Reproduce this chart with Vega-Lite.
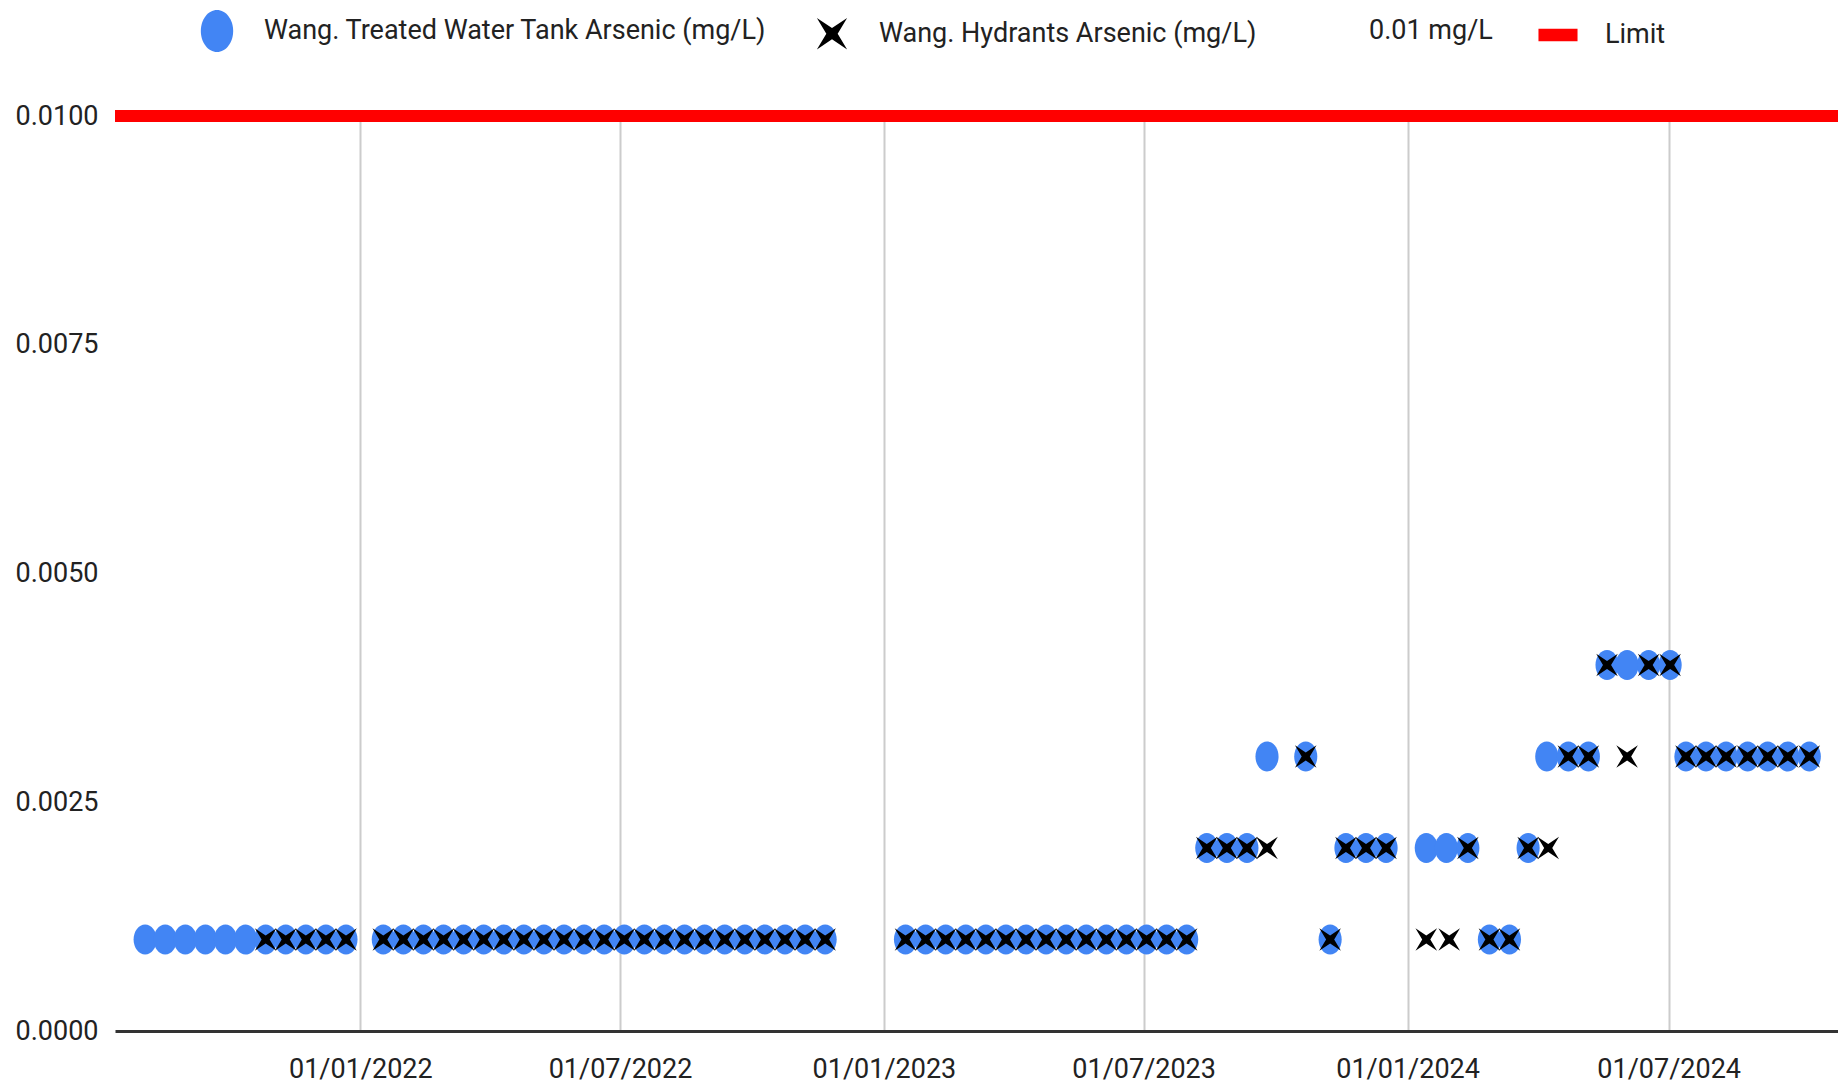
{
  "$schema": "https://vega.github.io/schema/vega-lite/v6.json",
  "width": 1723,
  "height": 915,
  "autosize": {"type": "none"},
  "padding": {"left": 115, "top": 116, "right": 0, "bottom": 54},
  "background": "white",
  "config": {
    "view": {"stroke": null},
    "font": "Roboto, Liberation Sans, Arial, sans-serif"
  },
  "data": {
    "values": [
      {"date": "2021-08-04", "value": 0.001, "series": "Wang. Treated Water Tank Arsenic (mg/L)"},
      {"date": "2021-08-18", "value": 0.001, "series": "Wang. Treated Water Tank Arsenic (mg/L)"},
      {"date": "2021-09-01", "value": 0.001, "series": "Wang. Treated Water Tank Arsenic (mg/L)"},
      {"date": "2021-09-15", "value": 0.001, "series": "Wang. Treated Water Tank Arsenic (mg/L)"},
      {"date": "2021-09-29", "value": 0.001, "series": "Wang. Treated Water Tank Arsenic (mg/L)"},
      {"date": "2021-10-13", "value": 0.001, "series": "Wang. Treated Water Tank Arsenic (mg/L)"},
      {"date": "2021-10-27", "value": 0.001, "series": "Wang. Treated Water Tank Arsenic (mg/L)"},
      {"date": "2021-11-10", "value": 0.001, "series": "Wang. Treated Water Tank Arsenic (mg/L)"},
      {"date": "2021-11-24", "value": 0.001, "series": "Wang. Treated Water Tank Arsenic (mg/L)"},
      {"date": "2021-12-08", "value": 0.001, "series": "Wang. Treated Water Tank Arsenic (mg/L)"},
      {"date": "2021-12-22", "value": 0.001, "series": "Wang. Treated Water Tank Arsenic (mg/L)"},
      {"date": "2022-01-17", "value": 0.001, "series": "Wang. Treated Water Tank Arsenic (mg/L)"},
      {"date": "2022-01-31", "value": 0.001, "series": "Wang. Treated Water Tank Arsenic (mg/L)"},
      {"date": "2022-02-14", "value": 0.001, "series": "Wang. Treated Water Tank Arsenic (mg/L)"},
      {"date": "2022-02-28", "value": 0.001, "series": "Wang. Treated Water Tank Arsenic (mg/L)"},
      {"date": "2022-03-14", "value": 0.001, "series": "Wang. Treated Water Tank Arsenic (mg/L)"},
      {"date": "2022-03-28", "value": 0.001, "series": "Wang. Treated Water Tank Arsenic (mg/L)"},
      {"date": "2022-04-11", "value": 0.001, "series": "Wang. Treated Water Tank Arsenic (mg/L)"},
      {"date": "2022-04-25", "value": 0.001, "series": "Wang. Treated Water Tank Arsenic (mg/L)"},
      {"date": "2022-05-09", "value": 0.001, "series": "Wang. Treated Water Tank Arsenic (mg/L)"},
      {"date": "2022-05-23", "value": 0.001, "series": "Wang. Treated Water Tank Arsenic (mg/L)"},
      {"date": "2022-06-06", "value": 0.001, "series": "Wang. Treated Water Tank Arsenic (mg/L)"},
      {"date": "2022-06-20", "value": 0.001, "series": "Wang. Treated Water Tank Arsenic (mg/L)"},
      {"date": "2022-07-04", "value": 0.001, "series": "Wang. Treated Water Tank Arsenic (mg/L)"},
      {"date": "2022-07-18", "value": 0.001, "series": "Wang. Treated Water Tank Arsenic (mg/L)"},
      {"date": "2022-08-01", "value": 0.001, "series": "Wang. Treated Water Tank Arsenic (mg/L)"},
      {"date": "2022-08-15", "value": 0.001, "series": "Wang. Treated Water Tank Arsenic (mg/L)"},
      {"date": "2022-08-29", "value": 0.001, "series": "Wang. Treated Water Tank Arsenic (mg/L)"},
      {"date": "2022-09-12", "value": 0.001, "series": "Wang. Treated Water Tank Arsenic (mg/L)"},
      {"date": "2022-09-26", "value": 0.001, "series": "Wang. Treated Water Tank Arsenic (mg/L)"},
      {"date": "2022-10-10", "value": 0.001, "series": "Wang. Treated Water Tank Arsenic (mg/L)"},
      {"date": "2022-10-24", "value": 0.001, "series": "Wang. Treated Water Tank Arsenic (mg/L)"},
      {"date": "2022-11-07", "value": 0.001, "series": "Wang. Treated Water Tank Arsenic (mg/L)"},
      {"date": "2022-11-21", "value": 0.001, "series": "Wang. Treated Water Tank Arsenic (mg/L)"},
      {"date": "2023-01-16", "value": 0.001, "series": "Wang. Treated Water Tank Arsenic (mg/L)"},
      {"date": "2023-01-30", "value": 0.001, "series": "Wang. Treated Water Tank Arsenic (mg/L)"},
      {"date": "2023-02-13", "value": 0.001, "series": "Wang. Treated Water Tank Arsenic (mg/L)"},
      {"date": "2023-02-27", "value": 0.001, "series": "Wang. Treated Water Tank Arsenic (mg/L)"},
      {"date": "2023-03-13", "value": 0.001, "series": "Wang. Treated Water Tank Arsenic (mg/L)"},
      {"date": "2023-03-27", "value": 0.001, "series": "Wang. Treated Water Tank Arsenic (mg/L)"},
      {"date": "2023-04-10", "value": 0.001, "series": "Wang. Treated Water Tank Arsenic (mg/L)"},
      {"date": "2023-04-24", "value": 0.001, "series": "Wang. Treated Water Tank Arsenic (mg/L)"},
      {"date": "2023-05-08", "value": 0.001, "series": "Wang. Treated Water Tank Arsenic (mg/L)"},
      {"date": "2023-05-22", "value": 0.001, "series": "Wang. Treated Water Tank Arsenic (mg/L)"},
      {"date": "2023-06-05", "value": 0.001, "series": "Wang. Treated Water Tank Arsenic (mg/L)"},
      {"date": "2023-06-19", "value": 0.001, "series": "Wang. Treated Water Tank Arsenic (mg/L)"},
      {"date": "2023-07-03", "value": 0.001, "series": "Wang. Treated Water Tank Arsenic (mg/L)"},
      {"date": "2023-07-17", "value": 0.001, "series": "Wang. Treated Water Tank Arsenic (mg/L)"},
      {"date": "2023-07-31", "value": 0.001, "series": "Wang. Treated Water Tank Arsenic (mg/L)"},
      {"date": "2023-08-14", "value": 0.002, "series": "Wang. Treated Water Tank Arsenic (mg/L)"},
      {"date": "2023-08-28", "value": 0.002, "series": "Wang. Treated Water Tank Arsenic (mg/L)"},
      {"date": "2023-09-11", "value": 0.002, "series": "Wang. Treated Water Tank Arsenic (mg/L)"},
      {"date": "2023-09-25", "value": 0.003, "series": "Wang. Treated Water Tank Arsenic (mg/L)"},
      {"date": "2023-10-22", "value": 0.003, "series": "Wang. Treated Water Tank Arsenic (mg/L)"},
      {"date": "2023-11-08", "value": 0.001, "series": "Wang. Treated Water Tank Arsenic (mg/L)"},
      {"date": "2023-11-19", "value": 0.002, "series": "Wang. Treated Water Tank Arsenic (mg/L)"},
      {"date": "2023-12-03", "value": 0.002, "series": "Wang. Treated Water Tank Arsenic (mg/L)"},
      {"date": "2023-12-17", "value": 0.002, "series": "Wang. Treated Water Tank Arsenic (mg/L)"},
      {"date": "2024-01-14", "value": 0.002, "series": "Wang. Treated Water Tank Arsenic (mg/L)"},
      {"date": "2024-01-28", "value": 0.002, "series": "Wang. Treated Water Tank Arsenic (mg/L)"},
      {"date": "2024-02-12", "value": 0.002, "series": "Wang. Treated Water Tank Arsenic (mg/L)"},
      {"date": "2024-02-27", "value": 0.001, "series": "Wang. Treated Water Tank Arsenic (mg/L)"},
      {"date": "2024-03-12", "value": 0.001, "series": "Wang. Treated Water Tank Arsenic (mg/L)"},
      {"date": "2024-03-25", "value": 0.002, "series": "Wang. Treated Water Tank Arsenic (mg/L)"},
      {"date": "2024-04-07", "value": 0.003, "series": "Wang. Treated Water Tank Arsenic (mg/L)"},
      {"date": "2024-04-22", "value": 0.003, "series": "Wang. Treated Water Tank Arsenic (mg/L)"},
      {"date": "2024-05-06", "value": 0.003, "series": "Wang. Treated Water Tank Arsenic (mg/L)"},
      {"date": "2024-05-19", "value": 0.004, "series": "Wang. Treated Water Tank Arsenic (mg/L)"},
      {"date": "2024-06-02", "value": 0.004, "series": "Wang. Treated Water Tank Arsenic (mg/L)"},
      {"date": "2024-06-17", "value": 0.004, "series": "Wang. Treated Water Tank Arsenic (mg/L)"},
      {"date": "2024-07-02", "value": 0.004, "series": "Wang. Treated Water Tank Arsenic (mg/L)"},
      {"date": "2024-07-13", "value": 0.003, "series": "Wang. Treated Water Tank Arsenic (mg/L)"},
      {"date": "2024-07-27", "value": 0.003, "series": "Wang. Treated Water Tank Arsenic (mg/L)"},
      {"date": "2024-08-10", "value": 0.003, "series": "Wang. Treated Water Tank Arsenic (mg/L)"},
      {"date": "2024-08-25", "value": 0.003, "series": "Wang. Treated Water Tank Arsenic (mg/L)"},
      {"date": "2024-09-08", "value": 0.003, "series": "Wang. Treated Water Tank Arsenic (mg/L)"},
      {"date": "2024-09-22", "value": 0.003, "series": "Wang. Treated Water Tank Arsenic (mg/L)"},
      {"date": "2024-10-07", "value": 0.003, "series": "Wang. Treated Water Tank Arsenic (mg/L)"},

      {"date": "2021-10-27", "value": 0.001, "series": "Wang. Hydrants Arsenic (mg/L)"},
      {"date": "2021-11-10", "value": 0.001, "series": "Wang. Hydrants Arsenic (mg/L)"},
      {"date": "2021-11-24", "value": 0.001, "series": "Wang. Hydrants Arsenic (mg/L)"},
      {"date": "2021-12-08", "value": 0.001, "series": "Wang. Hydrants Arsenic (mg/L)"},
      {"date": "2021-12-22", "value": 0.001, "series": "Wang. Hydrants Arsenic (mg/L)"},
      {"date": "2022-01-17", "value": 0.001, "series": "Wang. Hydrants Arsenic (mg/L)"},
      {"date": "2022-01-31", "value": 0.001, "series": "Wang. Hydrants Arsenic (mg/L)"},
      {"date": "2022-02-14", "value": 0.001, "series": "Wang. Hydrants Arsenic (mg/L)"},
      {"date": "2022-02-28", "value": 0.001, "series": "Wang. Hydrants Arsenic (mg/L)"},
      {"date": "2022-03-14", "value": 0.001, "series": "Wang. Hydrants Arsenic (mg/L)"},
      {"date": "2022-03-28", "value": 0.001, "series": "Wang. Hydrants Arsenic (mg/L)"},
      {"date": "2022-04-11", "value": 0.001, "series": "Wang. Hydrants Arsenic (mg/L)"},
      {"date": "2022-04-25", "value": 0.001, "series": "Wang. Hydrants Arsenic (mg/L)"},
      {"date": "2022-05-09", "value": 0.001, "series": "Wang. Hydrants Arsenic (mg/L)"},
      {"date": "2022-05-23", "value": 0.001, "series": "Wang. Hydrants Arsenic (mg/L)"},
      {"date": "2022-06-06", "value": 0.001, "series": "Wang. Hydrants Arsenic (mg/L)"},
      {"date": "2022-06-20", "value": 0.001, "series": "Wang. Hydrants Arsenic (mg/L)"},
      {"date": "2022-07-04", "value": 0.001, "series": "Wang. Hydrants Arsenic (mg/L)"},
      {"date": "2022-07-18", "value": 0.001, "series": "Wang. Hydrants Arsenic (mg/L)"},
      {"date": "2022-08-01", "value": 0.001, "series": "Wang. Hydrants Arsenic (mg/L)"},
      {"date": "2022-08-15", "value": 0.001, "series": "Wang. Hydrants Arsenic (mg/L)"},
      {"date": "2022-08-29", "value": 0.001, "series": "Wang. Hydrants Arsenic (mg/L)"},
      {"date": "2022-09-12", "value": 0.001, "series": "Wang. Hydrants Arsenic (mg/L)"},
      {"date": "2022-09-26", "value": 0.001, "series": "Wang. Hydrants Arsenic (mg/L)"},
      {"date": "2022-10-10", "value": 0.001, "series": "Wang. Hydrants Arsenic (mg/L)"},
      {"date": "2022-10-24", "value": 0.001, "series": "Wang. Hydrants Arsenic (mg/L)"},
      {"date": "2022-11-07", "value": 0.001, "series": "Wang. Hydrants Arsenic (mg/L)"},
      {"date": "2022-11-21", "value": 0.001, "series": "Wang. Hydrants Arsenic (mg/L)"},
      {"date": "2023-01-16", "value": 0.001, "series": "Wang. Hydrants Arsenic (mg/L)"},
      {"date": "2023-01-30", "value": 0.001, "series": "Wang. Hydrants Arsenic (mg/L)"},
      {"date": "2023-02-13", "value": 0.001, "series": "Wang. Hydrants Arsenic (mg/L)"},
      {"date": "2023-02-27", "value": 0.001, "series": "Wang. Hydrants Arsenic (mg/L)"},
      {"date": "2023-03-13", "value": 0.001, "series": "Wang. Hydrants Arsenic (mg/L)"},
      {"date": "2023-03-27", "value": 0.001, "series": "Wang. Hydrants Arsenic (mg/L)"},
      {"date": "2023-04-10", "value": 0.001, "series": "Wang. Hydrants Arsenic (mg/L)"},
      {"date": "2023-04-24", "value": 0.001, "series": "Wang. Hydrants Arsenic (mg/L)"},
      {"date": "2023-05-08", "value": 0.001, "series": "Wang. Hydrants Arsenic (mg/L)"},
      {"date": "2023-05-22", "value": 0.001, "series": "Wang. Hydrants Arsenic (mg/L)"},
      {"date": "2023-06-05", "value": 0.001, "series": "Wang. Hydrants Arsenic (mg/L)"},
      {"date": "2023-06-19", "value": 0.001, "series": "Wang. Hydrants Arsenic (mg/L)"},
      {"date": "2023-07-03", "value": 0.001, "series": "Wang. Hydrants Arsenic (mg/L)"},
      {"date": "2023-07-17", "value": 0.001, "series": "Wang. Hydrants Arsenic (mg/L)"},
      {"date": "2023-07-31", "value": 0.001, "series": "Wang. Hydrants Arsenic (mg/L)"},
      {"date": "2023-08-14", "value": 0.002, "series": "Wang. Hydrants Arsenic (mg/L)"},
      {"date": "2023-08-28", "value": 0.002, "series": "Wang. Hydrants Arsenic (mg/L)"},
      {"date": "2023-09-11", "value": 0.002, "series": "Wang. Hydrants Arsenic (mg/L)"},
      {"date": "2023-09-25", "value": 0.002, "series": "Wang. Hydrants Arsenic (mg/L)"},
      {"date": "2023-10-22", "value": 0.003, "series": "Wang. Hydrants Arsenic (mg/L)"},
      {"date": "2023-11-08", "value": 0.001, "series": "Wang. Hydrants Arsenic (mg/L)"},
      {"date": "2023-11-19", "value": 0.002, "series": "Wang. Hydrants Arsenic (mg/L)"},
      {"date": "2023-12-03", "value": 0.002, "series": "Wang. Hydrants Arsenic (mg/L)"},
      {"date": "2023-12-17", "value": 0.002, "series": "Wang. Hydrants Arsenic (mg/L)"},
      {"date": "2024-01-14", "value": 0.001, "series": "Wang. Hydrants Arsenic (mg/L)"},
      {"date": "2024-01-30", "value": 0.001, "series": "Wang. Hydrants Arsenic (mg/L)"},
      {"date": "2024-02-12", "value": 0.002, "series": "Wang. Hydrants Arsenic (mg/L)"},
      {"date": "2024-02-27", "value": 0.001, "series": "Wang. Hydrants Arsenic (mg/L)"},
      {"date": "2024-03-12", "value": 0.001, "series": "Wang. Hydrants Arsenic (mg/L)"},
      {"date": "2024-03-25", "value": 0.002, "series": "Wang. Hydrants Arsenic (mg/L)"},
      {"date": "2024-04-08", "value": 0.002, "series": "Wang. Hydrants Arsenic (mg/L)"},
      {"date": "2024-04-22", "value": 0.003, "series": "Wang. Hydrants Arsenic (mg/L)"},
      {"date": "2024-05-06", "value": 0.003, "series": "Wang. Hydrants Arsenic (mg/L)"},
      {"date": "2024-05-19", "value": 0.004, "series": "Wang. Hydrants Arsenic (mg/L)"},
      {"date": "2024-06-02", "value": 0.003, "series": "Wang. Hydrants Arsenic (mg/L)"},
      {"date": "2024-06-17", "value": 0.004, "series": "Wang. Hydrants Arsenic (mg/L)"},
      {"date": "2024-07-02", "value": 0.004, "series": "Wang. Hydrants Arsenic (mg/L)"},
      {"date": "2024-07-13", "value": 0.003, "series": "Wang. Hydrants Arsenic (mg/L)"},
      {"date": "2024-07-27", "value": 0.003, "series": "Wang. Hydrants Arsenic (mg/L)"},
      {"date": "2024-08-10", "value": 0.003, "series": "Wang. Hydrants Arsenic (mg/L)"},
      {"date": "2024-08-25", "value": 0.003, "series": "Wang. Hydrants Arsenic (mg/L)"},
      {"date": "2024-09-08", "value": 0.003, "series": "Wang. Hydrants Arsenic (mg/L)"},
      {"date": "2024-09-22", "value": 0.003, "series": "Wang. Hydrants Arsenic (mg/L)"},
      {"date": "2024-10-07", "value": 0.003, "series": "Wang. Hydrants Arsenic (mg/L)"}
    ]
  },
  "layer": [
    {
      "mark": {"type": "rule", "color": "#ff0000", "strokeWidth": 11},
      "encoding": {"y": {"datum": 0.01, "type": "quantitative"}}
    },
    {
      "mark": {"type": "point", "filled": true, "size": 900, "opacity": 1, "strokeWidth": 0},
      "encoding": {
        "x": {
          "field": "date",
          "type": "temporal",
          "scale": {
            "type": "utc",
            "nice": false,
            "domain": [
              {"year": 2021, "month": 7, "date": 14, "utc": true},
              {"year": 2024, "month": 10, "date": 27, "utc": true}
            ]
          },
          "axis": {
            "title": null,
            "values": [
              {"year": 2022, "month": 1, "date": 1, "utc": true},
              {"year": 2022, "month": 7, "date": 1, "utc": true},
              {"year": 2023, "month": 1, "date": 1, "utc": true},
              {"year": 2023, "month": 7, "date": 1, "utc": true},
              {"year": 2024, "month": 1, "date": 1, "utc": true},
              {"year": 2024, "month": 7, "date": 1, "utc": true}
            ],
            "labelExpr": "utcFormat(datum.value, '%d/%m/%Y')",
            "ticks": false,
            "labelPadding": 25,
            "labelFontSize": 27,
            "labelColor": "#222222",
            "labelFlush": false,
            "labelOverlap": false,
            "grid": true,
            "gridColor": "#cccccc",
            "gridWidth": 2,
            "domainColor": "#333333",
            "domainWidth": 3
          }
        },
        "y": {
          "field": "value",
          "type": "quantitative",
          "scale": {"domain": [0, 0.01], "nice": false, "zero": true},
          "axis": {
            "title": null,
            "values": [0, 0.0025, 0.005, 0.0075, 0.01],
            "format": ".4f",
            "domain": false,
            "ticks": false,
            "labelPadding": 17,
            "labelFontSize": 27,
            "labelColor": "#222222",
            "labelFlush": false,
            "gridColor": "#cccccc",
            "gridWidth": 2
          }
        },
        "color": {
          "field": "series",
          "type": "nominal",
          "sort": null,
          "scale": {
            "domain": ["Wang. Treated Water Tank Arsenic (mg/L)", "Wang. Hydrants Arsenic (mg/L)", "0.01 mg/L", "Limit"],
            "range": ["#4285f4", "#000000", "transparent", "#ff0000"]
          },
          "legend": {
            "orient": "none",
            "legendX": 81,
            "legendY": -106,
            "direction": "horizontal",
            "title": null,
            "padding": 0,
            "symbolSize": 1764,
            "symbolStrokeWidth": 0,
            "symbolOpacity": 1,
            "labelFontSize": 27,
            "labelColor": "#222222",
            "labelOffset": 26,
            "labelLimit": 0,
            "columnPadding": 44
          }
        },
        "shape": {
          "field": "series",
          "type": "nominal",
          "sort": null,
          "scale": {
            "domain": ["Wang. Treated Water Tank Arsenic (mg/L)", "Wang. Hydrants Arsenic (mg/L)", "0.01 mg/L", "Limit"],
            "range": [
              "M-0.77,0 A0.77,1 0 1,0 0.77,0 A0.77,1 0 1,0 -0.77,0 Z",
              "M0,-0.27 L0.72,-0.75 L0.27,0 L0.72,0.75 L0,0.27 L-0.72,0.75 L-0.27,0 L-0.72,-0.75 Z",
              "circle",
              "M-0.93,-0.3 L0.93,-0.3 L0.93,0.3 L-0.93,0.3 Z"
            ]
          }
        }
      }
    }
  ]
}
